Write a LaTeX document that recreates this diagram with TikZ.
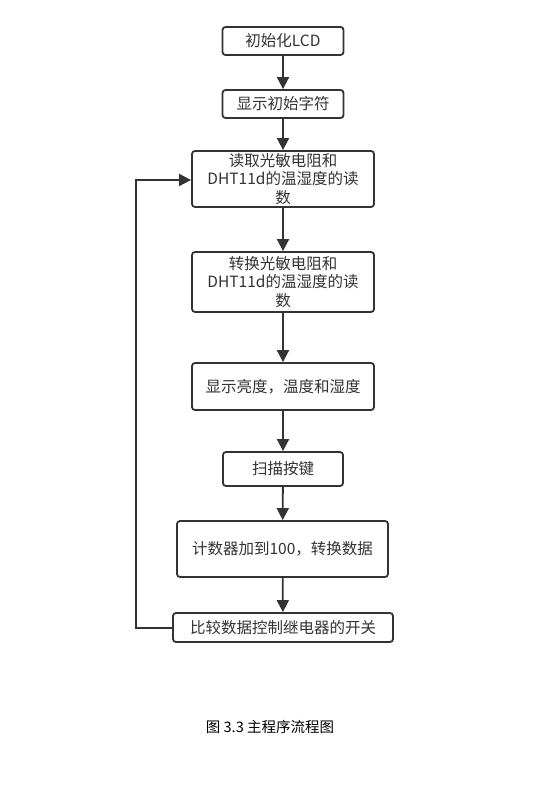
\documentclass[tikz,border=0pt]{standalone}
\usepackage{fontspec}
\setmainfont{Noto Sans CJK SC}
\usetikzlibrary{arrows.meta}
\definecolor{ln}{HTML}{333333}
\begin{document}
\begin{tikzpicture}[x=1pt,y=-1pt,
  box/.style={draw=ln,line width=1.8pt,rounded corners=3pt,fill=white,inner sep=0pt,
    font=\fontsize{15.5}{18.5}\selectfont,text=ln,align=center},
  flow/.style={draw=ln,line width=1.8pt,-{Triangle[length=12pt,width=12pt]}}]
\useasboundingbox (0,0) rectangle (552,791);
\node[box,minimum width=121pt,minimum height=28pt] (b1) at (283,41) {初始化LCD};
\node[box,minimum width=121pt,minimum height=28pt] (b2) at (283,104) {显示初始字符};
\node[box,minimum width=182pt,minimum height=56pt] (b3) at (283,179) {读取光敏电阻和\\DHT11d的温湿度的读\\数};
\node[box,minimum width=182pt,minimum height=60pt] (b4) at (283,282) {转换光敏电阻和\\DHT11d的温湿度的读\\数};
\node[box,minimum width=182pt,minimum height=47pt] (b5) at (283,386.5) {显示亮度，温度和湿度};
\node[box,minimum width=120pt,minimum height=34pt] (b6) at (283,469) {扫描按键};
\node[box,minimum width=211pt,minimum height=56pt] (b7) at (282.5,549) {计数器加到100，转换数据};
\node[box,minimum width=220pt,minimum height=29pt] (b8) at (283,627.5) {比较数据控制继电器的开关};
\coordinate (c1) at (136,628);
\coordinate (c2) at (136,180);
\draw[flow] (b1) -- (b2);
\draw[flow] (b2) -- (b3);
\draw[flow] (b3) -- (b4);
\draw[flow] (b4) -- (b5);
\draw[flow] (b5) -- (b6);
\draw[flow] (b6) -- (b7);
\draw[flow] (b7) -- (b8);
\draw[flow] (b8.west |- c1) -- (c1) -- (c2) -- (b3.west |- c2);
\node[font=\fontsize{14.5}{17}\selectfont,text=black] (cap) at (270,727) {图 3.3 主程序流程图};
\end{tikzpicture}
\end{document}
